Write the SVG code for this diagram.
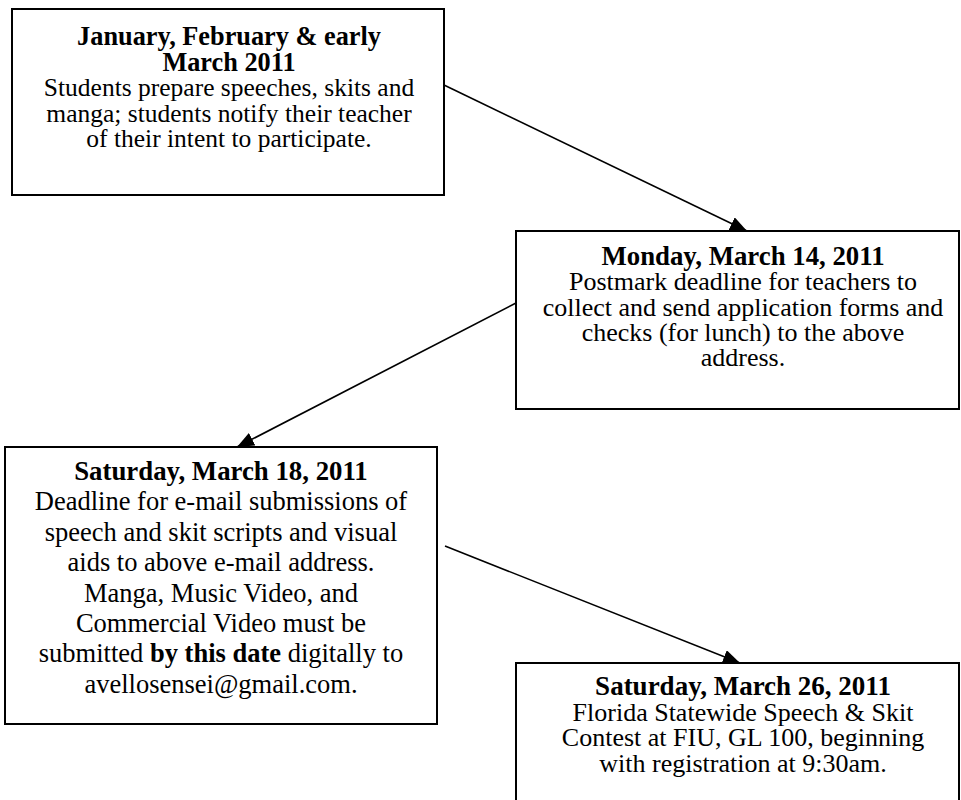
<svg xmlns="http://www.w3.org/2000/svg" width="961" height="800" viewBox="0 0 961 800">
<style>
.box{fill:#fff;stroke:#000;stroke-width:2}
text{font-family:"Liberation Serif","Times New Roman",serif;font-size:26px;fill:#000;text-anchor:middle}
.b{font-weight:bold}
.t{font-weight:bold;font-size:26.8px}
.conn{stroke:#000;stroke-width:1.6;fill:none;marker-end:url(#ah)}
</style>
<defs>
<marker id="ah" markerUnits="userSpaceOnUse" markerWidth="18" markerHeight="14" refX="17" refY="7" orient="auto">
<path d="M0,0 L17,7 L0,14 z" fill="#000"/>
</marker>
</defs>
<rect width="961" height="800" fill="#fff"/>
<g id="connectors">
<line class="conn" x1="444" y1="85" x2="747" y2="231"/>
<line class="conn" x1="516" y1="303" x2="237" y2="447"/>
<line class="conn" x1="445" y1="546" x2="740" y2="663"/>
</g>
<g id="node1">
<rect class="box" x="12" y="9" width="432" height="186"/>
<text style="font-size:25.5px"><tspan x="229" y="45" class="b" style="font-size:26.3px">January, February &amp; early</tspan><tspan x="229" y="70.5" class="b" style="font-size:26.3px">March 2011</tspan><tspan x="229" y="96">Students prepare speeches, skits and</tspan><tspan x="229" y="121.5">manga; students notify their teacher</tspan><tspan x="229" y="147">of their intent to participate.</tspan></text>
</g>
<g id="node2">
<rect class="box" x="516" y="231" width="443" height="178"/>
<text><tspan x="743" y="265" class="t">Monday, March 14, 2011</tspan><tspan x="743" y="290.3">Postmark deadline for teachers to</tspan><tspan x="743" y="315.5">collect and send application forms and</tspan><tspan x="743" y="340.8">checks (for lunch) to the above</tspan><tspan x="743" y="366">address.</tspan></text>
</g>
<g id="node3">
<rect class="box" x="5" y="447" width="432" height="277"/>
<text style="font-size:26.5px"><tspan x="221" y="480" class="t">Saturday, March 18, 2011</tspan><tspan x="221" y="510.4">Deadline for e-mail submissions of</tspan><tspan x="221" y="540.8">speech and skit scripts and visual</tspan><tspan x="221" y="571.2">aids to above e-mail address.</tspan><tspan x="221" y="601.6">Manga, Music Video, and</tspan><tspan x="221" y="632">Commercial Video must be</tspan><tspan x="221" y="662.4">submitted <tspan class="b">by this date</tspan> digitally to</tspan><tspan x="221" y="692.8">avellosensei@gmail.com.</tspan></text>
</g>
<g id="node4">
<rect class="box" x="516" y="663" width="443" height="150"/>
<text><tspan x="743" y="695" class="t" style="font-size:27px">Saturday, March 26, 2011</tspan><tspan x="743" y="720.7">Florida Statewide Speech &amp; Skit</tspan><tspan x="743" y="746.3">Contest at FIU, GL 100, beginning</tspan><tspan x="743" y="772">with registration at 9:30am.</tspan></text>
</g>
</svg>
